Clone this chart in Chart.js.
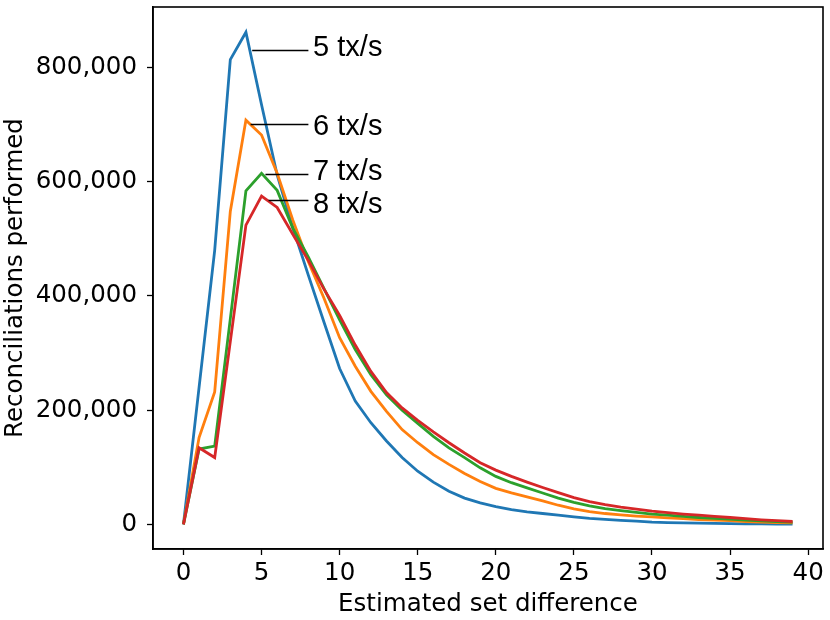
<!DOCTYPE html>
<html>
<head>
<meta charset="utf-8">
<script src="https://cdn.jsdelivr.net/npm/chart.js@4/dist/chart.umd.min.js"></script>
<style>
  html, body { margin: 0; padding: 0; background: #fff; }
  #wrap { width: 830px; height: 620px; position: relative; }
</style>
</head>
<body>
<div id="wrap"><canvas id="line-chart"></canvas></div>
<script>
// estimated set difference (x)
var setDiff = [0, 1, 2, 3, 4, 5, 6, 7, 8, 9, 10, 11, 12, 13, 14, 15, 16, 17, 18, 19,
               20, 21, 22, 23, 24, 25, 26, 27, 28, 29, 30, 31, 32, 33, 34, 35, 36, 37, 38, 39];

// reconciliations performed, one list per rate
var tx5 = [0, 240000, 480000, 814000, 862000, 735000, 612000, 520000, 436000, 354000,
           273000, 216000, 178000, 146000, 117000, 93000, 74000, 58000, 46000, 37500,
           31000, 26000, 22000, 19000, 16000, 13000, 10500, 8700, 7000, 5500,
           4000, 3200, 2600, 2100, 1700, 1300, 1000, 800, 600, 500];
var tx6 = [0, 152000, 232000, 548000, 708000, 682000, 615000, 533000, 460000, 396000,
           327000, 277000, 233000, 198000, 166000, 143000, 122000, 105000, 89000, 75000,
           63000, 55000, 48000, 41000, 33500, 27000, 22500, 19000, 16500, 14500,
           13000, 11500, 10000, 8500, 7500, 6500, 5000, 4000, 3000, 2500];
var tx7 = [0, 132000, 137000, 360000, 584000, 615000, 585000, 519000, 468000, 413000,
           358000, 306000, 262000, 227000, 200000, 177000, 154000, 134000, 117000, 99000,
           84000, 73000, 64000, 55000, 46000, 38500, 32500, 27500, 24000, 21000,
           18000, 16000, 14000, 12000, 10500, 9000, 7500, 6000, 5000, 4000];
var tx8 = [0, 134000, 117000, 320000, 524000, 575000, 555000, 508000, 462000, 412000,
           366000, 314000, 268000, 231000, 204000, 182000, 162000, 143000, 125000, 108000,
           95000, 84000, 74000, 64500, 55500, 47000, 40000, 34500, 30000, 26500,
           23000, 20500, 18000, 16000, 14000, 12000, 10000, 8000, 6500, 5000];

var seriesNames = ['5 tx/s', '6 tx/s', '7 tx/s', '8 tx/s'];
var xTicks = [0, 5, 10, 15, 20, 25, 30, 35, 40];
var yTicks = [0, 200000, 400000, 600000, 800000];

// label callouts: leader line from lineFrom to lineTo at lineY, text at textX/textY
var callouts = [
  { text: '5 tx/s', lineFrom: 4.4, lineTo: 8, lineY: 831000, textX: 8.3, textY: 834000 },
  { text: '6 tx/s', lineFrom: 4.3, lineTo: 8, lineY: 701000, textX: 8.3, textY: 696000 },
  { text: '7 tx/s', lineFrom: 5.25, lineTo: 8, lineY: 613000, textX: 8.3, textY: 618000 },
  { text: '8 tx/s', lineFrom: 5.45, lineTo: 8, lineY: 568000, textX: 8.3, textY: 559000 }
];

var colors = ['#1f77b4', '#ff7f0e', '#2ca02c', '#d62728'];
var tickFont = { family: 'DejaVu Sans', size: 24.5 };

function pts(ys) {
  return setDiff.map(function (x, i) { return { x: x, y: ys[i] }; });
}

var datasets = [tx5, tx6, tx7, tx8].map(function (ys, i) {
  return {
    label: seriesNames[i],
    data: pts(ys),
    borderColor: colors[i],
    borderWidth: 2.8,
    fill: false,
    pointRadius: 0,
    tension: 0,
    order: 4 - i
  };
});

var framePlugin = {
  id: 'frame',
  afterDatasetsDraw: function (chart) {
    var ctx = chart.ctx, a = chart.chartArea;
    var xs = chart.scales.x, ys = chart.scales.y;
    ctx.save();
    ctx.strokeStyle = '#000';
    ctx.lineWidth = 1.5;
    callouts.forEach(function (c) {
      var y = Math.round(ys.getPixelForValue(c.lineY)) + 0.5;
      ctx.beginPath();
      ctx.moveTo(xs.getPixelForValue(c.lineFrom), y);
      ctx.lineTo(xs.getPixelForValue(c.lineTo), y);
      ctx.stroke();
      ctx.fillStyle = '#000';
      ctx.font = '29px "Liberation Sans", Arial, sans-serif';
      ctx.textAlign = 'left';
      ctx.textBaseline = 'middle';
      ctx.fillText(c.text, xs.getPixelForValue(c.textX), ys.getPixelForValue(c.textY));
    });
    ctx.lineWidth = 1.6;
    ctx.strokeRect(a.left, a.top, a.right - a.left, a.bottom - a.top);
    ctx.restore();
  }
};

new Chart(document.getElementById('line-chart'), {
  type: 'line',
  data: { datasets: datasets },
  plugins: [framePlugin],
  options: {
    responsive: true,
    maintainAspectRatio: false,
    animation: false,
    layout: { padding: { top: 7, right: 7, left: 0, bottom: 0 } },
    plugins: {
      legend: { display: false },
      tooltip: { enabled: false },
      title: { display: false }
    },
    scales: {
      x: {
        type: 'linear',
        min: -1.95,
        max: 40.95,
        afterBuildTicks: function (scale) {
          scale.ticks = xTicks.map(function (v) { return { value: v }; });
        },
        afterFit: function (scale) {
          scale.height = 71;
          scale.paddingLeft = 0;
          scale.paddingRight = 0;
        },
        ticks: { color: '#000', font: tickFont, padding: 4, autoSkip: false, maxRotation: 0 },
        grid: { display: true, drawOnChartArea: false, drawTicks: true, tickLength: 6, tickColor: '#000', tickWidth: 1.3 },
        border: { display: true, color: '#000', width: 1.6 },
        title: {
          display: true,
          text: 'Estimated set difference',
          color: '#000',
          font: tickFont,
          padding: { top: 0, bottom: 1 }
        }
      },
      y: {
        type: 'linear',
        min: -43150,
        max: 906150,
        afterBuildTicks: function (scale) {
          scale.ticks = yTicks.map(function (v) { return { value: v }; });
        },
        afterFit: function (scale) {
          scale.width = 153;
          scale.paddingTop = 0;
          scale.paddingBottom = 0;
        },
        ticks: {
          color: '#000',
          font: tickFont,
          padding: 10,
          autoSkip: false,
          callback: function (v) { return Number(v).toLocaleString('en-US'); }
        },
        grid: { display: true, drawOnChartArea: false, drawTicks: true, tickLength: 6, tickColor: '#000', tickWidth: 1.3 },
        border: { display: true, color: '#000', width: 1.6 },
        title: {
          display: true,
          text: 'Reconciliations performed',
          color: '#000',
          font: tickFont,
          padding: { top: 1, bottom: 0 }
        }
      }
    }
  }
});
</script>
</body>
</html>
